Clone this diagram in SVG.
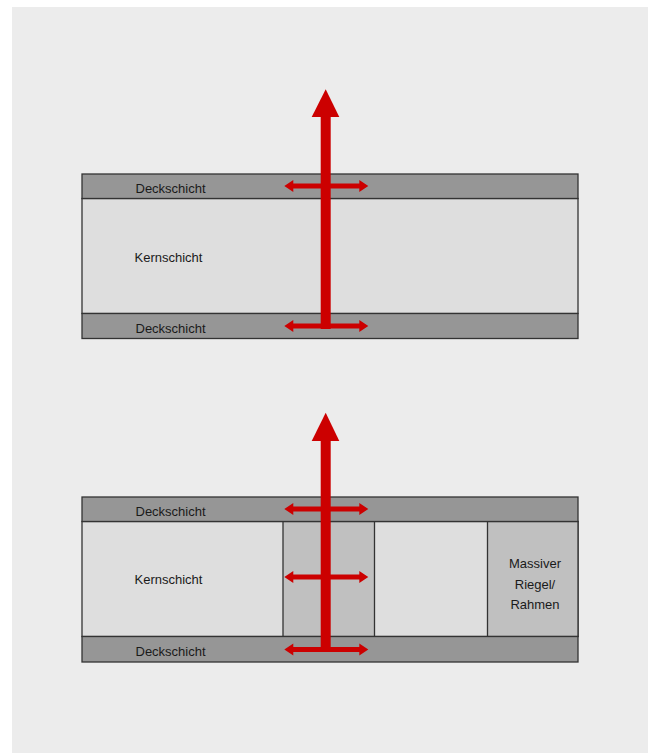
<svg xmlns="http://www.w3.org/2000/svg" width="648" height="753" viewBox="0 0 648 753">
<style>
.deck{fill:#969696;stroke:#333;stroke-width:1.3}
.kern{fill:#dedede;stroke:#333;stroke-width:1.3}
.col{fill:#c0c0c0;stroke:#333;stroke-width:1.3}
.lbl{font-family:"Liberation Sans",Arial,sans-serif;font-size:13px;fill:#1a1a1a}
.red{fill:#cc0000}
</style>
<defs>
<path id="harrow" d="M0,0 l9,-6 v3.5 h66 v-3.5 l9,6 l-9,6 v-3.5 h-66 v3.5 z"/>
</defs>
<rect x="12" y="7" width="636" height="746" fill="#ececec"/>
<g id="panel-top">
<rect class="kern" x="82" y="198.5" width="496" height="115"/>
<g id="top-deck1"><rect class="deck" x="82" y="174" width="496" height="24.5"/><text class="lbl" x="135.5" y="192.5">Deckschicht</text></g>
<g id="top-kern"><text class="lbl" x="134.5" y="261.5">Kernschicht</text></g>
<g id="top-deck2"><rect class="deck" x="82" y="313.5" width="496" height="25"/><text class="lbl" x="135.5" y="332.5">Deckschicht</text></g>
</g>
<g id="panel-bottom">
<g id="bot-kern"><rect class="kern" x="82" y="521.5" width="496" height="115"/><text class="lbl" x="134.5" y="584">Kernschicht</text></g>
<g id="bot-col"><rect class="col" x="283" y="521.5" width="91.5" height="115"/></g>
<g id="bot-riegel"><rect class="col" x="487.5" y="521.5" width="90.5" height="115"/>
<text class="lbl" x="535" y="568" text-anchor="middle">Massiver</text>
<text class="lbl" x="535" y="588.5" text-anchor="middle">Riegel/</text>
<text class="lbl" x="535" y="609" text-anchor="middle">Rahmen</text></g>
<g id="bot-deck1"><rect class="deck" x="82" y="497" width="496" height="24.5"/><text class="lbl" x="135.5" y="515.5">Deckschicht</text></g>
<g id="bot-deck2"><rect class="deck" x="82" y="636.5" width="496" height="25.5"/><text class="lbl" x="135.5" y="656">Deckschicht</text></g>
</g>
<g id="connectors" class="red">
<rect x="320.7" y="115" width="10" height="214"/>
<path d="M325.7,89.3 L339.3,117 L311.7,117 Z"/>
<use href="#harrow" x="284.3" y="186"/>
<use href="#harrow" x="284.3" y="326"/>
<rect x="320.7" y="439" width="10" height="213"/>
<path d="M325.7,412.7 L339.3,441 L311.7,441 Z"/>
<use href="#harrow" x="284.3" y="509"/>
<use href="#harrow" x="284.3" y="577"/>
<use href="#harrow" x="284.3" y="649.5"/>
</g>
</svg>
